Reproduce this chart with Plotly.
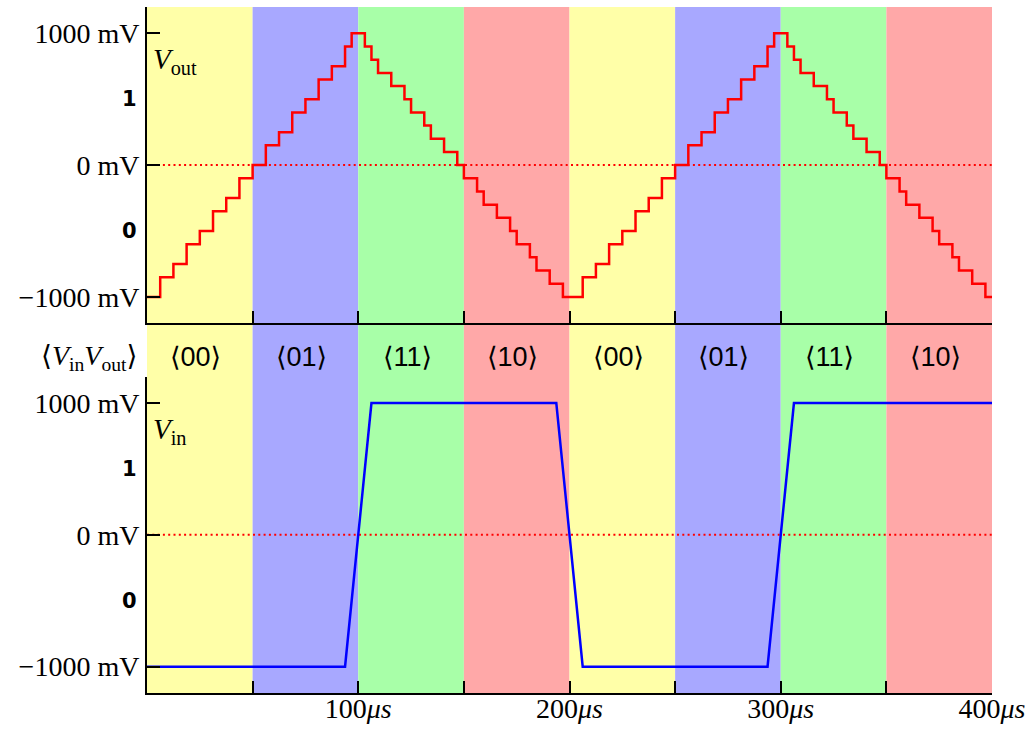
import plotly.graph_objects as go

# ---- data ----
vout_t = [0, 6.25, 12.5, 18.75, 25, 31.25, 37.5, 43.75, 50, 56.25, 62.5, 68.75, 75, 81.25, 87.5, 93.75,
          96.875, 103.125, 106.25, 109.375, 115.625, 121.875, 125, 131.25, 134.375, 140.625, 146.875,
          150, 156.25, 159.375, 165.625, 171.875, 175, 181.25, 184.375, 190.625, 196.875,
          206.25, 212.5, 218.75, 225, 231.25, 237.5, 243.75, 250, 256.25, 262.5, 268.75, 275, 281.25, 287.5, 293.75,
          296.875, 303.125, 306.25, 309.375, 315.625, 321.875, 325, 331.25, 334.375, 340.625, 346.875,
          350, 356.25, 359.375, 365.625, 371.875, 375, 381.25, 384.375, 390.625, 396.875, 400]
vout_mv = [-1000, -850, -750, -600, -500, -350, -250, -100, 0, 150, 250, 400, 500, 650, 750, 900,
           1000, 900, 800, 700, 600, 500, 400, 300, 200, 100, 0,
           -100, -200, -300, -400, -500, -600, -700, -800, -900, -1000,
           -850, -750, -600, -500, -350, -250, -100, 0, 150, 250, 400, 500, 650, 750, 900,
           1000, 900, 800, 700, 600, 500, 400, 300, 200, 100, 0,
           -100, -200, -300, -400, -500, -600, -700, -800, -900, -1000, -1000]

vin_t = [0, 93.75, 106.25, 193.75, 206.25, 293.75, 306.25, 400]
vin_mv = [-1000, -1000, 1000, 1000, -1000, -1000, 1000, 1000]

band_edges = [0, 50, 100, 150, 200, 250, 300, 350, 400]
band_colors = ["rgb(255,255,168)", "rgb(168,168,255)", "rgb(168,255,168)", "rgb(255,168,168)",
               "rgb(255,255,168)", "rgb(168,168,255)", "rgb(168,255,168)", "rgb(255,168,168)"]
band_labels = ["⟨00⟩", "⟨01⟩", "⟨11⟩", "⟨10⟩", "⟨00⟩", "⟨01⟩", "⟨11⟩", "⟨10⟩"]

x_tickvals = [50, 100, 150, 200, 250, 300, 350, 400]
x_ticktext = ["", "100<i>μs</i>", "", "200<i>μs</i>", "", "300<i>μs</i>", "", "400<i>μs</i>"]

y_major_vals = [-1000, 0, 1000]
y_major_text = ["−1000 mV", "0 mV", "1000 mV"]
y_mid_vals = [-500, 500]
y_mid_text = ["0", "1"]

SANS = "Liberation Sans, DejaVu Sans"
SERIF = "Liberation Serif, DejaVu Serif"

fig = go.Figure()

fig.add_trace(go.Scatter(x=vout_t, y=vout_mv, mode="lines", line=dict(color="#ff0000", width=2.5, shape="hv"),
                         xaxis="x", yaxis="y", showlegend=False, hoverinfo="skip"))
fig.add_trace(go.Scatter(x=vin_t, y=vin_mv, mode="lines", line=dict(color="#0000ff", width=2.5),
                         xaxis="x2", yaxis="y2", showlegend=False, hoverinfo="skip"))

shapes = []
for i, c in enumerate(band_colors):
    shapes.append(dict(type="rect", xref="x", yref="paper", x0=band_edges[i], x1=band_edges[i + 1],
                       y0=0, y1=1, fillcolor=c, line=dict(width=0), layer="below"))
for yr in ["y", "y2"]:
    shapes.append(dict(type="line", xref="x domain" if yr == "y" else "x2 domain", yref=yr, x0=0, x1=1, y0=0, y1=0,
                       line=dict(color="#ff0000", width=2, dash="2px,3.3px"), layer="below"))

annotations = []
for i, lab in enumerate(band_labels):
    annotations.append(dict(x=(band_edges[i] + band_edges[i + 1]) / 2, y=0.5, xref="x", yref="paper",
                            text=lab, showarrow=False, xanchor="center", yanchor="middle", yshift=-7, xshift=-4,
                            font=dict(family=SANS, size=27, color="black")))
for yr in ["y", "y2"]:
    for v, t in zip(y_mid_vals, y_mid_text):
        annotations.append(dict(x=0, y=v, xref="paper", yref=yr, xanchor="right", yanchor="middle",
                                xshift=-8, yshift=0, showarrow=False, text=f"<b>{t}</b>",
                                font=dict(family="DejaVu Sans", size=21, color="black")))
annotations.append(dict(x=0, y=0.5, xref="paper", yref="paper", xanchor="right", yanchor="middle",
                        xshift=-8, yshift=-7, showarrow=False,
                        text="⟨<i>V</i><sub>in</sub><i>V</i><sub>out</sub>⟩",
                        font=dict(family=SERIF, size=28, color="black")))
annotations.append(dict(x=0, y=1000, xref="paper", yref="y", xanchor="left", yanchor="top",
                        xshift=4, yshift=-8, showarrow=False, text="<i>V</i><sub>out</sub>",
                        font=dict(family=SERIF, size=29, color="black")))
annotations.append(dict(x=0, y=1000, xref="paper", yref="y2", xanchor="left", yanchor="top",
                        xshift=4, yshift=-8, showarrow=False, text="<i>V</i><sub>in</sub>",
                        font=dict(family=SERIF, size=29, color="black")))

xcommon = dict(range=[0, 400], showgrid=False, zeroline=False, showline=True, linecolor="black", linewidth=2,
               automargin=False,
               tickmode="array", tickvals=x_tickvals, ticks="inside", ticklen=12, tickwidth=2, tickcolor="black")
ycommon = dict(range=[-1200, 1200], showgrid=False, zeroline=False, showline=True, linecolor="black", linewidth=2,
               automargin=False,
               tickmode="array", tickvals=y_major_vals, ticktext=y_major_text,
               ticks="inside", ticklen=13, tickwidth=2, tickcolor="black",
               tickfont=dict(family=SERIF, size=28, color="black"))

fig.update_layout(
    width=1032, height=730,
    margin=dict(l=147, r=40, t=7, b=37),
    paper_bgcolor="white", plot_bgcolor="rgba(0,0,0,0)",
    xaxis=dict(**xcommon, anchor="y", showticklabels=False),
    xaxis2=dict(**xcommon, anchor="y2", ticktext=x_ticktext, ticklabelstandoff=-11,
                tickfont=dict(family=SERIF, size=28, color="black")),
    yaxis=dict(**ycommon, domain=[0.539, 1], anchor="x"),
    yaxis2=dict(**ycommon, domain=[0, 0.461], anchor="x2"),
    shapes=shapes, annotations=annotations,
)

fig.write_html("out.html")
